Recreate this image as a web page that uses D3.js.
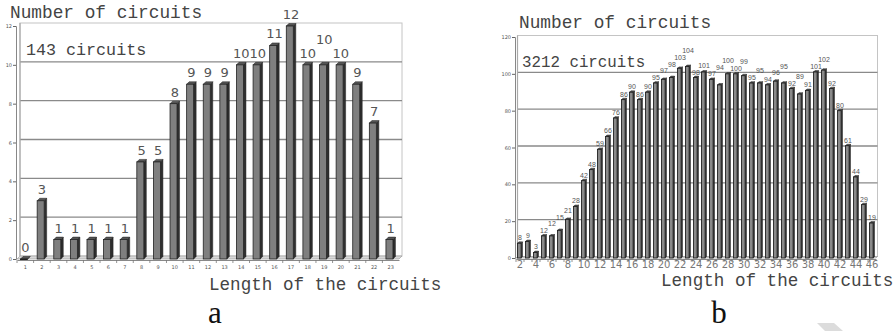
<!DOCTYPE html>
<html><head><meta charset="utf-8">
<script src="https://cdn.jsdelivr.net/npm/d3@7"></script>
<style>body{margin:0;background:#fff}svg{display:block}</style>
</head><body>
<svg id="c" width="896" height="331"></svg>
<script>
// Panel a data
const lengthsA = d3.range(1, 24);
const countsA = [0,3,1,1,1,1,1,5,5,8,9,9,9,10,10,11,12,10,10,10,9,7,1];
const yTicksA = [0,2,4,6,8,10,12];
// Panel b data
const lengthsB = d3.range(2, 47);
const countsB = [8,9,3,12,12,15,21,28,42,48,59,66,76,86,90,86,90,95,97,98,103,104,98,101,97,94,100,100,99,95,95,94,96,95,92,89,91,101,102,92,80,61,44,29,19];
const yTicksB = [0,20,40,60,80,100,120];
const xTickLabelsB = d3.range(2, 47, 2);

const svg = d3.select("#c");
const mono = "'Liberation Mono', 'Courier New', monospace";
const sans = "'DejaVu Sans', sans-serif";

function panel(o) {
  const g = svg.append("g");
  const x = d3.scaleBand().domain(o.cats).range([o.x0, o.x1]).paddingInner(0).paddingOuter(0);
  const y = d3.scaleLinear().domain([0, o.ymax]).range([o.yb, o.yt]);
  const dx = o.depth, dy = -o.depth;
  const wx0 = o.x0 + dx, wx1 = o.x1 + dx;
  // back wall
  g.append("rect").attr("x", wx0).attr("y", y(o.ymax) + dy).attr("width", wx1 - wx0)
    .attr("height", y(0) - y(o.ymax)).attr("fill", "#fff").attr("stroke", "#c4c4c4").attr("stroke-width", 1);
  // gridlines
  g.selectAll(".grid").data(o.yTicks.filter(v => v > 0 && v < o.ymax)).join("line")
    .attr("x1", wx0).attr("x2", wx1).attr("y1", d => y(d) + dy).attr("y2", d => y(d) + dy)
    .attr("stroke", "#8a8a8a").attr("stroke-width", 1.4);
  // left wall edge
  g.append("line").attr("x1", wx0).attr("x2", wx0).attr("y1", y(o.ymax) + dy).attr("y2", y(0) + dy)
    .attr("stroke", "#aaa").attr("stroke-width", 1.2);
  // floor
  g.append("path").attr("d", `M${o.x0},${y(0)}L${o.x1},${y(0)}L${o.x1+dx},${y(0)+dy}L${wx0},${y(0)+dy}Z`)
    .attr("fill", "#d8d8d8").attr("stroke", "#999").attr("stroke-width", 0.6);
  // y axis
  const ya = g.append("g").attr("transform", `translate(${o.x0 - 1},0)`)
    .call(d3.axisLeft(y).tickValues(o.yTicks).tickSize(3).tickPadding(1));
  ya.select(".domain").attr("stroke", "#888");
  ya.selectAll(".tick line").attr("stroke", "#666");
  ya.selectAll("text").attr("font-size", 5).attr("font-family", sans).attr("fill", "#555");
  // x axis
  const xa = g.append("g").attr("transform", `translate(0,${y(0) + 1})`)
    .call(d3.axisBottom(x).tickValues(o.xLabels).tickSize(0).tickPadding(o.xPad));
  xa.select(".domain").attr("stroke", "#888");
  xa.selectAll("text").attr("font-size", o.xFont).attr("font-family", sans).attr("fill", o.xColor);
  // tick marks at band boundaries
  g.selectAll(".xt").data(o.cats).join("line")
    .attr("x1", d => x(d)).attr("x2", d => x(d)).attr("y1", y(0) + 1).attr("y2", y(0) + 4)
    .attr("stroke", "#777").attr("stroke-width", 0.8);
  // bars
  const bw = o.barW, bd = o.barD;
  const bars = g.selectAll(".bar").data(o.cats.map((c, i) => ({c, v: o.vals[i]}))).join("g");
  const bx = d => x(d.c) + x.bandwidth() / 2 - (bw + bd) / 2;
  bars.append("path").attr("d", d => {
    const X = bx(d) + bw, Y = y(d.v);
    return `M${X},${Y}L${X+bd},${Y-bd}L${X+bd},${y(0)-bd}L${X},${y(0)}Z`;
  }).attr("fill", "#2f2f2f").attr("stroke", "#222").attr("stroke-width", 0.5);
  bars.append("path").attr("d", d => {
    const X = bx(d), Y = y(d.v);
    return `M${X},${Y}L${X+bd},${Y-bd}L${X+bw+bd},${Y-bd}L${X+bw},${Y}Z`;
  }).attr("fill", "#555").attr("stroke", "#222").attr("stroke-width", 0.5);
  bars.append("rect").attr("x", bx).attr("y", d => y(d.v)).attr("width", bw)
    .attr("height", d => Math.max(0.6, y(0) - y(d.v)))
    .attr("fill", o.barFill).attr("stroke", "#222").attr("stroke-width", o.barStroke);
  // value labels
  const labs = bars.append("text").attr("x", d => bx(d) + (bw + bd) / 2)
    .attr("y", (d, i) => y(d.v) - o.labOff - (o.raise.includes(i) ? o.raiseAmt : 0))
    .attr("text-anchor", "middle").attr("font-size", o.labFont).attr("font-family", o.labFamily)
    .attr("fill", "#555").text(d => d.v);
  // stagger labels that would collide with the previous one
  if (o.stagger) {
    let prev = null;
    labs.each(function() {
      const t = d3.select(this);
      const w = this.getComputedTextLength();
      const cx = +t.attr("x");
      let yy = +t.attr("y");
      if (prev && Math.abs(cx - prev.cx) < (w + prev.w) / 2 + 0.6 && Math.abs(yy - prev.y) < o.labFont * 0.95) {
        yy = Math.min(yy, prev.y - o.labFont * 0.95);
        t.attr("y", yy);
      }
      prev = {cx, w, y: yy};
    });
  }
  // titles
  g.append("text").attr("x", o.titleX).attr("y", o.titleY).attr("font-family", mono)
    .attr("font-size", 17.8).attr("fill", "#444").text("Number of circuits");
  g.append("text").attr("x", o.totX).attr("y", o.totY).attr("font-family", mono)
    .attr("font-size", o.totFont).attr("fill", "#444").text(o.totText);
  g.append("text").attr("x", o.lenX).attr("y", o.lenY).attr("font-family", mono)
    .attr("font-size", 17.6).attr("fill", "#444").text("Length of the circuits");
  g.append("text").attr("x", o.capX).attr("y", 323).attr("text-anchor", "middle")
    .attr("font-family", "'Liberation Serif', 'Times New Roman', serif")
    .attr("font-size", 31).attr("fill", "#111").text(o.cap);
}

panel({
  cats: lengthsA, vals: countsA, yTicks: yTicksA, ymax: 12, xLabels: lengthsA,
  x0: 17, x1: 399, yb: 259, yt: 26, depth: 3,
  barW: 7, barD: 2.5, barStroke: 0.8, barFill: "#7f7f7f", labOff: 7, labFont: 13, labFamily: sans,
  raise: [18], raiseAmt: 14, stagger: false,
  xFont: 5, xPad: 5, xColor: "#555",
  titleX: 10, titleY: 18, totX: 26, totY: 55, totFont: 16.7, totText: "143 circuits",
  lenX: 209, lenY: 290, cap: "a", capX: 215
});

panel({
  cats: lengthsB, vals: countsB, yTicks: yTicksB, ymax: 120, xLabels: xTickLabelsB,
  x0: 516, x1: 876, yb: 258, yt: 37, depth: 1.5,
  barW: 3.6, barD: 1.4, barStroke: 0.9, barFill: "#8a8a8a", labOff: 3, labFont: 7,
  labFamily: "'Liberation Sans', Arial, sans-serif",
  raise: [], raiseAmt: 0, stagger: true,
  xFont: 10, xPad: 2, xColor: "#777",
  titleX: 519, titleY: 28, totX: 522, totY: 67, totFont: 15.8, totText: "3212 circuits",
  lenX: 661, lenY: 286, cap: "b", capX: 719
});

// faint watermark fragment
svg.append("path").attr("d", "M817,323L834,323L843,331L825,331Z").attr("fill", "#dcdcdc");
</script>
</body></html>
